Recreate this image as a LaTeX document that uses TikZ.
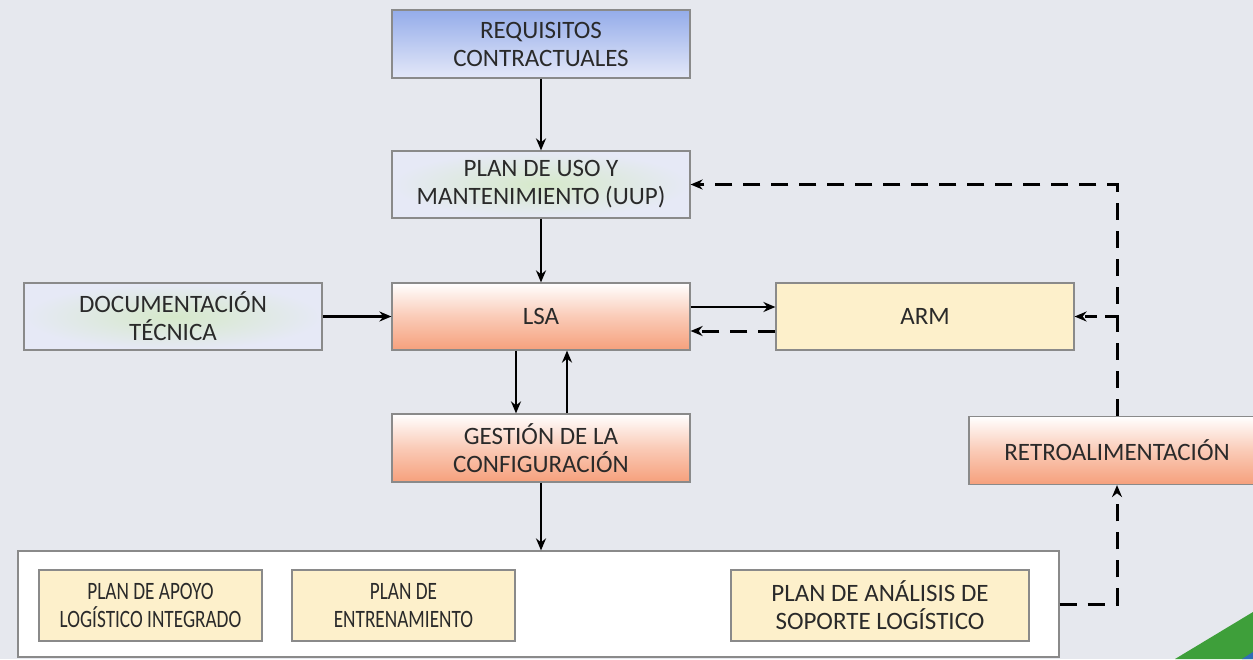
\documentclass[tikz,border=0pt]{standalone}
\usepackage{fontspec}
\setmainfont{Carlito}
\usetikzlibrary{arrows.meta,shapes.geometric}
\definecolor{bgc}{HTML}{E6E8EE}
\definecolor{edgec}{HTML}{8A8A8A}
\definecolor{txtc}{HTML}{2A2A2A}
\definecolor{bluetop}{HTML}{94ACEA}
\definecolor{bluebot}{HTML}{E4E8F8}
\definecolor{lav}{HTML}{E6E9F6}
\definecolor{greenglow}{HTML}{D6E9CA}
\definecolor{orangebot}{HTML}{F6A07C}
\definecolor{creamc}{HTML}{FDF0CB}
\definecolor{wedgegreen}{HTML}{3E9F3A}
\definecolor{wedgeblue}{HTML}{2F6DB5}
\newcommand{\mycond}[1]{\scalebox{0.77}[1]{#1}}
\tikzset{
  box/.style={draw=edgec, line width=1.2pt, minimum width=298pt, minimum height=67pt,
    align=center, text=txtc, font=\fontsize{25}{28}\selectfont, inner sep=2pt},
  bluebox/.style={box, top color=bluetop, bottom color=bluebot},
  lavbox/.style={box, inner color=greenglow, outer color=lav},
  orangebox/.style={box, top color=white, bottom color=orangebot, middle color=orangebot!55!white},
  creambox/.style={box, fill=creamc},
  conbox/.style={draw=edgec, line width=1.2pt, fill=white, minimum width=1041pt, minimum height=106pt},
  solidarrow/.style={line width=2.5pt, -{Stealth[length=12pt,width=10pt]}},
  dasharrow/.style={line width=3pt, dash pattern=on 17pt off 11pt, -{Stealth[length=12pt,width=10pt]}}
}
\begin{document}
\begin{tikzpicture}[x=1pt,y=-1pt]
\useasboundingbox (0,0) rectangle (1253,659);
\clip (0,0) rectangle (1253,659);
\fill[bgc] (0,0) rectangle (1253,659);
\fill[wedgegreen] (1175,659) -- (1253,612) -- (1253,659) -- cycle;
\fill[wedgeblue] (1242,659) -- (1253,652) -- (1253,659) -- cycle;

\node[bluebox, minimum height=68pt] (req) at (541,44) {REQUISITOS\\CONTRACTUALES};
\node[lavbox] (uup) at (541,184.5) {PLAN DE USO Y\\MANTENIMIENTO (UUP)};
\node[lavbox] (doc) at (173,316.5) {DOCUMENTACIÓN\\TÉCNICA};
\node[orangebox] (lsa) at (541,316.5) {LSA};
\node[creambox] (arm) at (925,316.5) {ARM};
\node[orangebox, minimum height=68pt] (gest) at (541,448) {GESTIÓN DE LA\\CONFIGURACIÓN};
\node[orangebox, minimum width=296pt, minimum height=68pt] (retro) at (1117,450.5) {RETROALIMENTACIÓN};

\node[conbox] (cont) at (538.5,604) {};
\node[creambox, minimum width=223pt, minimum height=71pt] (apoyo) at (150.5,605.5) {\mycond{PLAN DE APOYO}\\\mycond{LOGÍSTICO INTEGRADO}};
\node[creambox, minimum width=223pt, minimum height=71pt] (entr) at (403.5,605.5) {\mycond{PLAN DE}\\\mycond{ENTRENAMIENTO}};
\node[creambox, minimum width=298pt, minimum height=71pt] (anal) at (880,605.5) {PLAN DE ANÁLISIS DE\\SOPORTE LOGÍSTICO};

\draw[solidarrow] (req) -- (uup);
\draw[solidarrow] (uup) -- (lsa);
\draw[solidarrow] (doc) -- (lsa);
\draw[solidarrow] ([yshift=9.5pt]lsa.east) -- ([yshift=9.5pt]arm.west);
\draw[dasharrow] ([yshift=-14.5pt]arm.west) -- ([yshift=-14.5pt]lsa.east);
\draw[solidarrow] ([xshift=-25pt]lsa.south) -- ([xshift=-25pt]gest.north);
\draw[solidarrow] ([xshift=26pt]gest.north) -- ([xshift=26pt]lsa.south);
\draw[solidarrow] (gest.south) -- (gest.south |- cont.north);
\draw[dasharrow] (cont.east) -- (cont.east -| retro.south) -- (retro.south);
\draw[dasharrow] (retro.north) -- (retro.north |- uup.east) -- (uup.east);
\coordinate (br) at (retro.north |- arm.east);
\draw[dasharrow, dash pattern=on 12pt off 8pt] (br) -- (arm.east);
\end{tikzpicture}
\end{document}
